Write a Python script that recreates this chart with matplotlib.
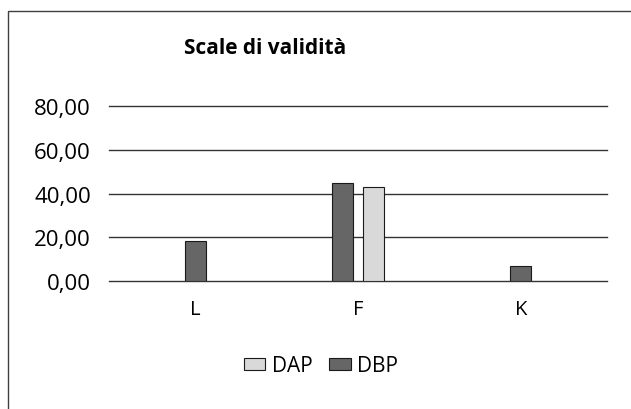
import matplotlib.pyplot as plt
import numpy as np
from matplotlib.patches import Rectangle

categories = ["L", "F", "K"]
series_names = ["DBP", "DAP"]
dbp_values = [18.2, 44.8, 6.9]
dap_values = [np.nan, 43.0, np.nan]
y_ticks = [0, 20, 40, 60, 80]

COLORS = {"DBP": "#666666", "DAP": "#d9d9d9"}
FONT = "Open Sans"
BAR_WIDTH = 0.13
BAR_STEP = 0.19


def tick_label(value):
    return f"{value:.2f}".replace(".", ",")


def main():
    plt.rcParams["font.family"] = [FONT, "DejaVu Sans"]

    fig = plt.figure(figsize=(6.31, 4.10), dpi=100)
    ax = fig.add_axes([0.1727, 0.312, 0.962 - 0.1727, 0.739 - 0.312])

    values = np.array([dbp_values, dap_values], dtype=float)
    x = np.arange(len(categories))

    # bars that have a value are centred on their category
    for j in range(len(categories)):
        present = [i for i in range(len(series_names)) if not np.isnan(values[i, j])]
        offsets = (np.arange(len(present)) - (len(present) - 1) / 2) * BAR_STEP
        for off, i in zip(offsets, present):
            ax.bar(x[j] + off, values[i, j], width=BAR_WIDTH,
                   color=COLORS[series_names[i]], edgecolor="#1a1a1a",
                   linewidth=0.8, zorder=3)

    ax.set_xlim(-0.53, 2.53)
    ax.set_ylim(0, 80)
    ax.set_yticks(y_ticks)
    ax.set_yticklabels([tick_label(v) for v in y_ticks], fontsize=16)
    ax.set_xticks(x)
    ax.set_xticklabels(categories, fontsize=14.5)
    ax.tick_params(axis="y", length=0, pad=13)
    ax.tick_params(axis="x", length=0, pad=13)
    for v in y_ticks:
        ax.axhline(v, color="#333333", linewidth=1.0, zorder=1, clip_on=False)
    for spine in ax.spines.values():
        spine.set_visible(False)

    handles = [Rectangle((0, 0), 1, 1, facecolor=COLORS[name], edgecolor="#1a1a1a", linewidth=0.8)
               for name in ["DAP", "DBP"]]
    fig.legend(handles, ["DAP", "DBP"], loc="center", bbox_to_anchor=(321 / 631, 1 - 367 / 410),
               ncol=2, frameon=False, fontsize=15, handlelength=1.05, handleheight=0.5,
               handletextpad=0.33, columnspacing=0.75)

    fig.text(265 / 631, 1 - 48 / 410, "Scale di validità", ha="center", va="center",
             fontsize=15, fontweight="bold")

    frame = Rectangle((8 / 631, -0.1), 1.1, 1 - 12 / 410 + 0.1, transform=fig.transFigure,
                      fill=False, edgecolor="#404040", linewidth=1.0)
    fig.patches.append(frame)

    fig.savefig("out.png", dpi=100)


if __name__ == "__main__":
    main()
